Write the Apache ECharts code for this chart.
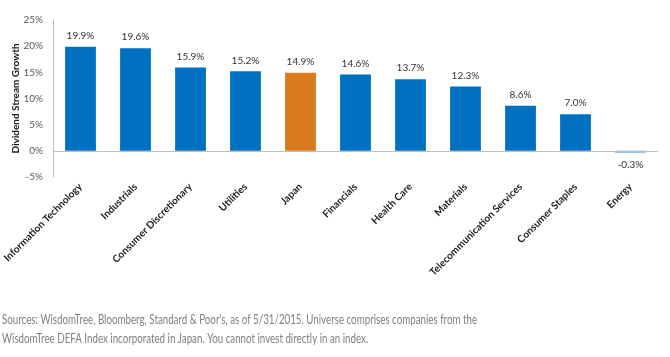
<!DOCTYPE html>
<html>
<head>
<meta charset="utf-8">
<script src="https://cdn.jsdelivr.net/npm/echarts@6/dist/echarts.min.js"></script>
<style>
  html, body { margin: 0; padding: 0; background: #fff; }
  #chart { width: 670px; height: 357px; }
</style>
</head>
<body>
<div id="chart"></div>
<script>
const categories = [
  "Information Technology", "Industrials", "Consumer Discretionary", "Utilities",
  "Japan", "Financials", "Health Care", "Materials",
  "Telecommunication Services", "Consumer Staples", "Energy"
];
const growth = [19.9, 19.6, 15.9, 15.2, 14.9, 14.6, 13.7, 12.3, 8.6, 7.0, -0.3];
const highlight = "Japan";
const yTicks = [-5, 0, 5, 10, 15, 20, 25];
const footnoteLines = [
  "Sources: WisdomTree, Bloomberg, Standard & Poor\u2019s, as of 5/31/2015. Universe comprises companies from the",
  "WisdomTree DEFA Index incorporated in Japan. You cannot invest directly in an index."
];

const chart = echarts.init(document.getElementById("chart"));

chart.setOption({
  animation: false,
  grid: { left: 53, right: 12, top: 20, bottom: 180, outerBoundsMode: "none" },
  xAxis: {
    type: "category",
    data: categories,
    axisLine: { show: false, onZero: false },
    axisTick: { show: false },
    axisLabel: {
      interval: 0,
      rotate: 45,
      margin: 8,
      color: "#1a1a1a",
      fontFamily: "Lato",
      fontWeight: "bold",
      fontSize: 10
    }
  },
  yAxis: {
    type: "value",
    min: yTicks[0],
    max: yTicks[yTicks.length - 1],
    interval: 5,
    name: "Dividend Stream Growth",
    nameLocation: "middle",
    nameGap: 32,
    nameMoveOverlap: false,
    nameTextStyle: {
      color: "#1a1a1a",
      fontFamily: "Lato",
      fontWeight: "bold",
      fontSize: 10
    },
    axisLine: { show: true, lineStyle: { color: "#bfbfbf", width: 1 } },
    axisTick: { show: false },
    splitLine: { show: false },
    axisLabel: {
      color: "#595959",
      fontFamily: "Lato",
      fontSize: 10,
      margin: 10,
      formatter: v => v + "%"
    }
  },
  series: [
    {
      type: "bar",
      barWidth: "56%",
      data: growth.map((v, i) => ({
        value: v,
        itemStyle: {
          color: categories[i] === highlight ? "#D97A1E" : "#0070C0"
        }
      })),
      label: {
        show: true,
        position: "top",
        distance: 6,
        color: "#333",
        fontFamily: "Lato",
        fontSize: 10,
        formatter: p => p.value.toFixed(1) + "%"
      },
      labelLayout: p => (growth[p.dataIndex] < 0 ? { dy: 25 } : {}),
      markLine: {
        silent: true,
        symbol: "none",
        label: { show: false },
        lineStyle: { color: "#bfbfbf", width: 1, type: "solid" },
        data: [{ yAxis: 0 }]
      }
    }
  ],
  graphic: footnoteLines.map((t, i) => ({
    type: "text",
    left: 2,
    top: 313 + i * 19,
    scaleX: 0.75,
    style: {
      text: t,
      fill: "#7f7f7f",
      font: "13px Lato"
    }
  }))
});
</script>
</body>
</html>
